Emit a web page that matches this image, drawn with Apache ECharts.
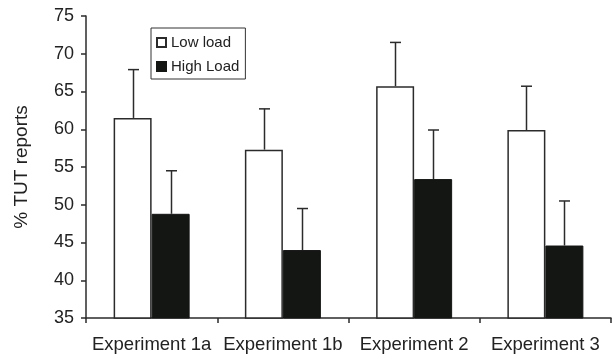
<!DOCTYPE html>
<html>
<head>
<meta charset="utf-8">
<script src="https://cdn.jsdelivr.net/npm/echarts@6/dist/echarts.min.js"></script>
<style>
  html, body { margin: 0; padding: 0; background: #fff; }
  #chart { width: 613px; height: 359px; }
</style>
</head>
<body>
<div id="chart"></div>
<script>
const experiments = ['Experiment 1a', 'Experiment 1b', 'Experiment 2', 'Experiment 3']
const lowLoad = [61.5, 57.3, 65.7, 59.9]
const lowLoadErr = [6.4, 5.4, 5.8, 5.8]
const highLoad = [48.8, 44.0, 53.4, 44.6]
const highLoadErr = [5.7, 5.5, 6.5, 5.9]

const BAR_W = 38
const ink = '#2b2b2b'
const font = 'Liberation Sans'

const chart = echarts.init(document.getElementById('chart'))

// draws the upward whisker + cap on top of each bar
const errorSeries = (name, vals, errs, side) => ({
  type: 'custom',
  name: name + ' err',
  z: 5,
  data: vals.map((v, i) => [i, v, v + errs[i]]),
  renderItem: (params, api) => {
    const base = api.coord([api.value(0), api.value(1)])
    const top = api.coord([api.value(0), api.value(2)])
    const x = Math.round(base[0] + side * BAR_W / 2) + 0.5
    const cap = 5.5
    return {
      type: 'group',
      children: [
        { type: 'line', shape: { x1: x, y1: base[1], x2: x, y2: top[1] }, style: { stroke: ink, lineWidth: 1.5 } },
        { type: 'line', shape: { x1: x - cap, y1: top[1], x2: x + cap, y2: top[1] }, style: { stroke: ink, lineWidth: 1.5 } }
      ]
    }
  }
})

const option = {
  animation: false,
  grid: { left: 86, right: 2, top: 16, bottom: 41 },
  legend: {
    data: ['Low load', 'High Load'],
    orient: 'vertical',
    left: 151,
    top: 28,
    icon: 'rect',
    itemWidth: 9,
    itemHeight: 9,
    itemGap: 9,
    padding: [7, 6, 5, 5],
    borderColor: '#333',
    borderWidth: 1,
    textStyle: { fontFamily: font, fontSize: 15, color: '#222' }
  },
  xAxis: {
    type: 'category',
    data: experiments,
    axisLine: { lineStyle: { color: ink, width: 1.5 } },
    axisTick: { show: true, interval: 0, length: 5, lineStyle: { color: ink, width: 1.5 } },
    axisLabel: { interval: 0, hideOverlap: false, margin: 17, fontFamily: font, fontSize: 18.5, color: '#222' }
  },
  yAxis: {
    type: 'value',
    min: 35,
    max: 75,
    interval: 5,
    name: '% TUT reports',
    nameLocation: 'middle',
    nameGap: 55,
    nameTextStyle: { fontFamily: font, fontSize: 19, color: '#222' },
    axisLine: { show: true, lineStyle: { color: ink, width: 1.5 } },
    axisTick: { show: true, length: 5, lineStyle: { color: ink, width: 1.5 } },
    axisLabel: { margin: 12, fontFamily: font, fontSize: 18, color: '#222' },
    splitLine: { show: false }
  },
  series: [
    {
      name: 'Low load',
      type: 'bar',
      barWidth: BAR_W,
      barGap: 0,
      data: lowLoad,
      itemStyle: { color: '#fff', borderColor: ink, borderWidth: 1.5 }
    },
    {
      name: 'High Load',
      type: 'bar',
      barWidth: BAR_W,
      barGap: 0,
      data: highLoad,
      itemStyle: { color: '#141614', borderColor: '#141614', borderWidth: 1 }
    },
    errorSeries('Low load', lowLoad, lowLoadErr, -1),
    errorSeries('High Load', highLoad, highLoadErr, 1)
  ]
}

chart.setOption(option)
</script>
</body>
</html>
